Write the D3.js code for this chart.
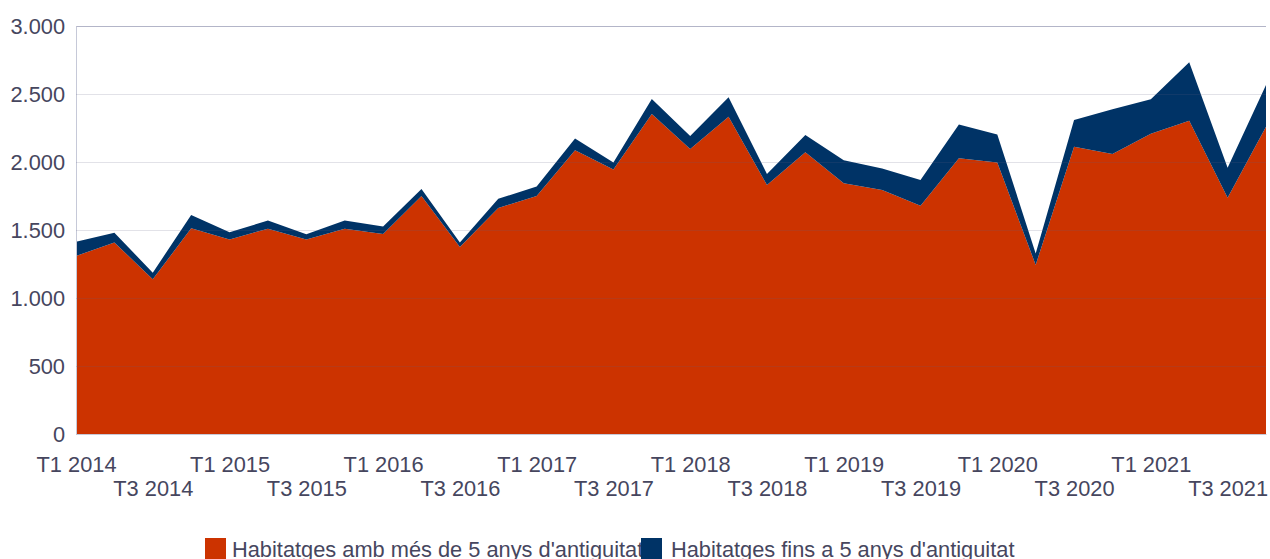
<!DOCTYPE html>
<html>
<head>
<meta charset="utf-8">
<script src="https://cdn.jsdelivr.net/npm/d3@7/dist/d3.min.js"></script>
<style>
  html, body { margin: 0; padding: 0; background: #fff; }
  svg { display: block; font-family: "Liberation Sans", Arial, sans-serif; }
</style>
</head>
<body>
<svg id="chart" width="1270" height="559"></svg>
<script>
// Quarterly housing counts, stacked by age of the dwelling
const quarters = [
  "T1 2014","T2 2014","T3 2014","T4 2014",
  "T1 2015","T2 2015","T3 2015","T4 2015",
  "T1 2016","T2 2016","T3 2016","T4 2016",
  "T1 2017","T2 2017","T3 2017","T4 2017",
  "T1 2018","T2 2018","T3 2018","T4 2018",
  "T1 2019","T2 2019","T3 2019","T4 2019",
  "T1 2020","T2 2020","T3 2020","T4 2020",
  "T1 2021","T2 2021","T3 2021","T4 2021"
];
const olderThan5 = [
  1309, 1409, 1137, 1512,
  1431, 1510, 1431, 1510,
  1471, 1750, 1375, 1662,
  1750, 2086, 1944, 2353,
  2096, 2333, 1831, 2071,
  1843, 1794, 1679, 2027,
  1997, 1243, 2113, 2059,
  2208, 2304, 1738, 2260
];
const upTo5 = [
  105, 71, 49, 98,
  52, 59, 37, 59,
  54, 52, 34, 68,
  69, 86, 53, 110,
  95, 143, 81, 128,
  170, 159, 189, 248,
  206, 85, 196, 328,
  253, 429, 220, 306
];
const yTicks = [0, 500, 1000, 1500, 2000, 2500, 3000];
const seriesNames = ["Habitatges amb més de 5 anys d'antiguitat", "Habitatges fins a 5 anys d'antiguitat"];
const seriesColors = ["#cc3300", "#003366"];

(function draw() {
  const svg = d3.select("#chart");
  const plotLeft = 76, plotRight = 1266, plotTop = 26, plotBottom = 434;
  const fontSize = 21.8;

  const x = d3.scalePoint().domain(quarters).range([plotLeft, plotRight]);
  const y = d3.scaleLinear().domain([0, 3000]).range([plotBottom, plotTop]);

  const rows = quarters.map((q, i) => ({ q, older: olderThan5[i], recent: upTo5[i] }));
  const layers = d3.stack().keys(["older", "recent"])(rows);

  const area = d3.area()
    .x(d => x(d.data.q))
    .y0(d => y(d[0]))
    .y1(d => y(d[1]));

  svg.append("g").selectAll("path")
    .data(layers)
    .join("path")
    .attr("d", area)
    .attr("fill", (d, i) => seriesColors[i]);

  // horizontal grid, drawn over the areas
  const yAxis = d3.axisLeft(y)
    .tickValues(yTicks)
    .tickSize(-(plotRight - plotLeft))
    .tickPadding(11)
    .tickFormat(d => d3.format(",")(d).replace(/,/g, "."));

  const gy = svg.append("g")
    .attr("transform", `translate(${plotLeft},0)`)
    .call(yAxis);
  gy.select(".domain").attr("stroke", "#c6c9d8").attr("stroke-width", 1);
  gy.selectAll(".tick line").attr("stroke", "rgba(95,95,130,0.18)").attr("stroke-width", 1);
  gy.selectAll(".tick text")
    .attr("fill", "#46465e")
    .attr("font-size", fontSize)
    .attr("dy", "0.36em");

  // x axis: labels every second quarter, staggered on two rows
  const labelled = quarters.filter((q, i) => i % 2 === 0);
  const xAxis = d3.axisBottom(x).tickValues(labelled).tickSize(0).tickPadding(0);
  const gx = svg.append("g")
    .attr("transform", `translate(0,${plotBottom})`)
    .call(xAxis);
  gx.select(".domain").attr("stroke", "#c6c9d8").attr("stroke-width", 1);
  gx.selectAll(".tick text")
    .attr("fill", "#46465e")
    .attr("font-size", fontSize)
    .attr("dy", null)
    .attr("y", (d, i) => i % 2 === 0 ? 38 : 62);

  // legend
  const legendItems = [
    { name: seriesNames[0], color: seriesColors[0], sx: 205, tx: 232 },
    { name: seriesNames[1], color: seriesColors[1], sx: 641, tx: 671 }
  ];
  const lg = svg.append("g");
  legendItems.forEach(it => {
    lg.append("text")
      .attr("x", it.tx).attr("y", 557)
      .attr("font-size", fontSize)
      .attr("fill", "#46465e")
      .text(it.name);
  });
  legendItems.forEach(it => {
    lg.append("rect")
      .attr("x", it.sx).attr("y", 538)
      .attr("width", 21).attr("height", 21)
      .attr("fill", it.color);
  });
})();
</script>
</body>
</html>
